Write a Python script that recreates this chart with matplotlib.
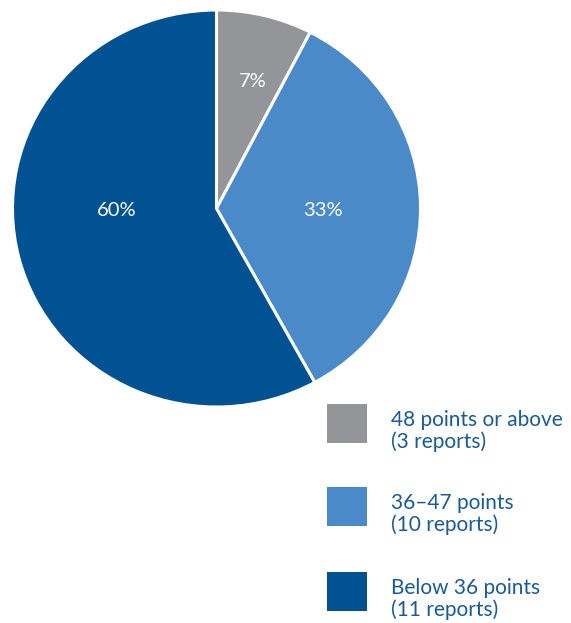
import matplotlib.pyplot as plt
from matplotlib.patches import Rectangle

# wedge shares, labels as printed on the chart
shares = [7.6, 34.4, 58.0]
pct_labels = ["7%", "33%", "60%"]
legend_labels = ["48 points or above\n(3 reports)",
                 "36\u201347 points\n(10 reports)",
                 "Below 36 points\n(11 reports)"]
colors = ["#939598", "#4a8ac9", "#005293"]
label_pos = [(0.18, 0.64), (0.52, -0.01), (-0.49, -0.01)]

plt.rcParams['font.family'] = ['Lato', 'DejaVu Sans']

W, H = 571, 623
fig = plt.figure(figsize=(W / 100, H / 100), dpi=100)

# pie area in pixels (slightly wider than tall, as in the original)
cx, cy, rx, ry = 216.5, 208.5, 204, 198.5
ax = fig.add_axes([(cx - rx) / W, (H - cy - ry) / H, 2 * rx / W, 2 * ry / H])
ax.pie(shares, colors=colors, startangle=90, counterclock=False,
       wedgeprops=dict(edgecolor="white", linewidth=2.2), radius=1.0)
ax.set_xlim(-1.0, 1.0)
ax.set_ylim(-1.0, 1.0)
ax.set_aspect('auto')
ax.axis('off')

for (x, y), t in zip(label_pos, pct_labels):
    ax.text(x, y, t, color="white", fontsize=14.5, ha="center", va="center")

# legend, laid out by hand: square + two-line label per entry
sq_left, sq_size, text_left = 327, 40, 391
row_tops = [404, 487, 572]
for top, c, lab in zip(row_tops, colors, legend_labels):
    fig.add_artist(Rectangle((sq_left / W, 1 - (top + 39) / H), sq_size / W, 39 / H,
                             transform=fig.transFigure, facecolor=c, edgecolor="none"))
    # baseline of the second label line
    fig.text(text_left / W, 1 - (top + 44) / H, lab, color="#1a5a99", fontsize=15,
             ha="left", va="baseline", linespacing=1.1)

fig.savefig("out.png", dpi=100)
